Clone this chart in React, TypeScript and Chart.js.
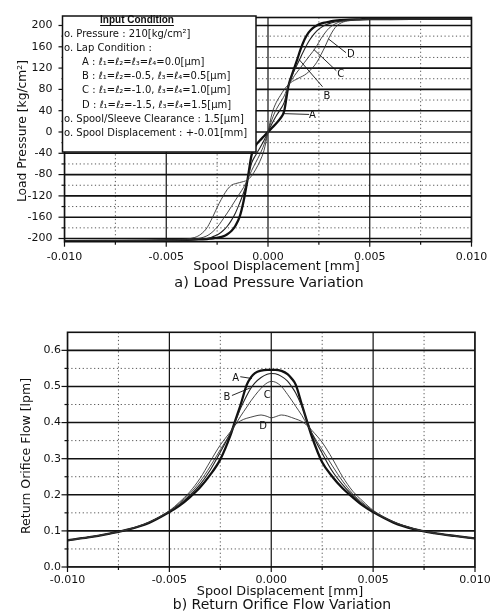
import React, { useEffect, useRef } from 'react';
import { Chart, registerables } from 'chart.js';

Chart.register(...registerables);

const FONT = '"DejaVu Sans", "Liberation Sans", sans-serif';

// ---------------- a) Load Pressure Variation ----------------
const PRESS_X = [
  -0.010, -0.008, -0.006, -0.005, -0.0045, -0.004, -0.0036, -0.0033, -0.003, -0.0028, -0.0026, -0.0024,
  -0.0022, -0.002, -0.0018, -0.0016, -0.0014, -0.0012, -0.001, -0.0008, -0.0006, -0.0004, -0.0002, 0,
  0.0002, 0.0004, 0.0006, 0.0008, 0.001, 0.0012, 0.0014, 0.0016, 0.0018, 0.002, 0.0022, 0.0024,
  0.0026, 0.0028, 0.003, 0.0033, 0.0036, 0.004, 0.0045, 0.005, 0.006, 0.008, 0.010,
];
const PRESS_A = [
  -205, -204.5, -204, -203.5, -203, -202.5, -202, -201.5, -201, -200, -199, -198,
  -196, -192, -186, -176, -160, -130, -88, -42, -25, -16, -8, 0,
  8, 16, 25, 40, 86, 110, 132, 155, 174, 187, 195, 200,
  203.5, 205.5, 207, 209, 210, 211, 211.5, 212, 212, 212.5, 212.5,
];
const PRESS_B = [
  -205, -204.5, -204, -203.5, -203, -202.5, -202, -201, -200, -198, -195, -191,
  -185, -177, -166, -152, -134, -114, -89, -58, -43, -30, -16, 0,
  16, 30, 42, 56, 87, 108, 124, 140, 156, 170, 181, 190,
  196, 200.5, 203.5, 206.5, 208.5, 210, 211, 212, 212, 212.5, 212.5,
];
const PRESS_C = [
  -205, -204.5, -204, -203.5, -203, -202.5, -201, -199, -195, -190, -183, -174,
  -163, -152, -140, -128, -116, -104, -89, -72, -57, -42, -24, 0,
  24, 42, 55, 68, 87, 100, 111, 121, 131, 141, 151, 162,
  175, 186, 195, 203, 207.5, 210, 211, 212, 212, 212.5, 212.5,
];
const PRESS_D = [
  -205, -204.5, -204, -203, -202.5, -201, -198, -192, -180, -166, -150, -134,
  -120, -108, -100, -97, -95, -93, -90, -82, -70, -55, -35, 0,
  35, 55, 68, 80, 89, 95, 99, 103, 107, 113, 121, 131,
  145, 160, 177, 196, 205, 209, 211, 212, 212, 212.5, 212.5,
];
const PRESS_Y_TICKS = [-200, -160, -120, -80, -40, 0, 40, 80, 120, 160, 200];
const PRESS_Y_MINOR = [-180, -140, -100, -60, -20, 20, 60, 100, 140, 180];
const DISP_TICKS = [-0.01, -0.005, 0, 0.005, 0.01];
const DISP_MINOR = [-0.0075, -0.0025, 0.0025, 0.0075];

const INPUT_TITLE = 'Input Condition';
const INPUT_LINES = [
  { text: 'o. Pressure : 210[kg/cm²]', indent: 0 },
  { text: 'o. Lap Condition :', indent: 0 },
  { text: 'A : ℓ₁=ℓ₂=ℓ₃=ℓ₄=0.0[μm]', indent: 1 },
  { text: 'B : ℓ₁=ℓ₂=-0.5, ℓ₃=ℓ₄=0.5[μm]', indent: 1 },
  { text: 'C : ℓ₁=ℓ₂=-1.0, ℓ₃=ℓ₄=1.0[μm]', indent: 1 },
  { text: 'D : ℓ₁=ℓ₂=-1.5, ℓ₃=ℓ₄=1.5[μm]', indent: 1 },
  { text: 'o. Spool/Sleeve Clearance : 1.5[μm]', indent: 0 },
  { text: 'o. Spool Displacement : +-0.01[mm]', indent: 0 },
];

// curve labels (data coordinates): text position and leader line
const PRESS_NOTES = [
  { text: 'D', x: 0.00407, y: 145, line: [0.00298, 174.5, 0.00383, 149] },
  { text: 'C', x: 0.00358, y: 109, line: [0.00225, 155, 0.00336, 115] },
  { text: 'B', x: 0.00289, y: 67, line: [0.00153, 136, 0.00268, 85] },
  { text: 'A', x: 0.00218, y: 32, line: [0.00077, 34.5, 0.00202, 33] },
];

// ---------------- b) Return Orifice Flow Variation ----------------
const FLOW_X = [
  -0.010, -0.009, -0.008, -0.007, -0.006, -0.005, -0.0045, -0.004, -0.0035, -0.003, -0.0025, -0.002,
  -0.0018, -0.0015, -0.0012, -0.001, -0.0008, -0.0005, -0.0002, 0,
  0.0002, 0.0005, 0.0008, 0.001, 0.0012, 0.0015, 0.0018, 0.002, 0.0025, 0.003, 0.0035, 0.004,
  0.0045, 0.005, 0.006, 0.007, 0.008, 0.009, 0.010,
];
const FLOW_A = [
  0.074, 0.082, 0.092, 0.104, 0.122, 0.152, 0.170, 0.193, 0.220, 0.255, 0.298, 0.365,
  0.400, 0.450, 0.505, 0.525, 0.537, 0.544, 0.546, 0.546,
  0.546, 0.543, 0.534, 0.522, 0.505, 0.450, 0.395, 0.360, 0.290, 0.250, 0.218, 0.193,
  0.170, 0.152, 0.123, 0.105, 0.094, 0.086, 0.079,
];
const FLOW_B = [
  0.074, 0.082, 0.092, 0.104, 0.123, 0.153, 0.173, 0.198, 0.228, 0.268, 0.318, 0.372,
  0.398, 0.440, 0.475, 0.495, 0.510, 0.525, 0.534, 0.536,
  0.535, 0.528, 0.515, 0.500, 0.482, 0.445, 0.398, 0.370, 0.315, 0.265, 0.228, 0.198,
  0.173, 0.153, 0.124, 0.105, 0.094, 0.086, 0.079,
];
const FLOW_C = [
  0.074, 0.082, 0.092, 0.104, 0.124, 0.155, 0.177, 0.203, 0.236, 0.278, 0.325, 0.370,
  0.390, 0.418, 0.443, 0.460, 0.475, 0.495, 0.510, 0.514,
  0.512, 0.500, 0.478, 0.462, 0.445, 0.420, 0.390, 0.370, 0.325, 0.280, 0.238, 0.203,
  0.177, 0.155, 0.125, 0.106, 0.094, 0.086, 0.079,
];
const FLOW_D = [
  0.074, 0.082, 0.092, 0.105, 0.125, 0.156, 0.180, 0.208, 0.245, 0.292, 0.338, 0.375,
  0.392, 0.405, 0.412, 0.415, 0.418, 0.421, 0.417, 0.413,
  0.416, 0.421, 0.418, 0.414, 0.410, 0.403, 0.390, 0.378, 0.345, 0.300, 0.250, 0.210,
  0.182, 0.157, 0.126, 0.106, 0.094, 0.086, 0.079,
];
const FLOW_Y_TICKS = [0, 0.1, 0.2, 0.3, 0.4, 0.5, 0.6];
const FLOW_Y_MINOR = [0.05, 0.15, 0.25, 0.35, 0.45, 0.55];

const FLOW_NOTES = [
  { text: 'A', x: -0.00175, y: 0.521, line: [-0.00152, 0.527, -0.00095, 0.522] },
  { text: 'B', x: -0.00217, y: 0.47, line: [-0.00193, 0.475, -0.00103, 0.496] },
  { text: 'C', x: -0.0002, y: 0.475, line: null },
  { text: 'D', x: -0.0004, y: 0.388, line: null },
];

const W = 504;

type Note = { text: string; x: number; y: number; line: number[] | null };

type Panel = {
  id: string;
  height: number;
  area: { left: number; right: number; top: number; bottom: number };
  xs: number[];
  series: { label: string; values: number[]; width: number; color: string }[];
  xMin: number; xMax: number; yMin: number; yMax: number;
  xTicks: number[]; xMinor: number[]; yTicks: number[]; yMinor: number[];
  xDigits: number; yDigits: number;
  yLabelPad: number; xLabelPad: number;
  yTitle: string; yTitlePos: [number, number]; yTitleSize: number;
  xTitle: string; xTitlePos: [number, number]; xTitleSize: number;
  caption: string; captionPos: [number, number]; captionSize: number;
  notes: Note[];
  legendBox: boolean;
};

function decor(p: Panel) {
  return {
    id: 'decor_' + p.id,
    beforeDatasetsDraw(chart: any) {
      const { ctx, chartArea: a } = chart;
      const xs = chart.scales.x;
      const ys = chart.scales.y;
      ctx.save();
      ctx.beginPath();
      ctx.rect(a.left, a.top, a.right - a.left, a.bottom - a.top);
      ctx.clip();
      const h = (py: number) => { ctx.beginPath(); ctx.moveTo(a.left, py); ctx.lineTo(a.right, py); ctx.stroke(); };
      const v = (px: number) => { ctx.beginPath(); ctx.moveTo(px, a.top); ctx.lineTo(px, a.bottom); ctx.stroke(); };
      ctx.setLineDash([1.2, 2.6]);
      ctx.strokeStyle = '#555';
      ctx.lineWidth = 1;
      p.yMinor.forEach((t) => h(ys.getPixelForValue(t)));
      p.xMinor.forEach((t) => v(xs.getPixelForValue(t)));
      ctx.setLineDash([]);
      ctx.strokeStyle = '#111';
      ctx.lineWidth = 1.6;
      p.yTicks.forEach((t) => h(ys.getPixelForValue(t)));
      ctx.lineWidth = 1.2;
      p.xTicks.forEach((t) => v(xs.getPixelForValue(t)));
      ctx.restore();
    },
    afterDatasetsDraw(chart: any) {
      const { ctx, chartArea: a } = chart;
      const xs = chart.scales.x;
      const ys = chart.scales.y;
      ctx.save();
      // frame
      ctx.strokeStyle = '#111';
      ctx.lineWidth = 1.6;
      ctx.strokeRect(a.left, a.top, a.right - a.left, a.bottom - a.top);
      // tick marks
      ctx.lineWidth = 1.2;
      const tickY = (t: number, len: number) => {
        const py = ys.getPixelForValue(t);
        ctx.beginPath(); ctx.moveTo(a.left - len, py); ctx.lineTo(a.left, py); ctx.stroke();
      };
      const tickX = (t: number, len: number) => {
        const px = xs.getPixelForValue(t);
        ctx.beginPath(); ctx.moveTo(px, a.bottom); ctx.lineTo(px, a.bottom + len); ctx.stroke();
      };
      p.yTicks.forEach((t) => tickY(t, 6));
      p.yMinor.forEach((t) => tickY(t, 3));
      p.xTicks.forEach((t) => tickX(t, 5));
      p.xMinor.forEach((t) => tickX(t, 3));

      // curve labels
      ctx.fillStyle = '#111';
      ctx.strokeStyle = '#111';
      ctx.lineWidth = 0.9;
      ctx.font = `10px ${FONT}`;
      ctx.textAlign = 'center';
      ctx.textBaseline = 'middle';
      p.notes.forEach((n) => {
        if (n.line) {
          ctx.beginPath();
          ctx.moveTo(xs.getPixelForValue(n.line[0]), ys.getPixelForValue(n.line[1]));
          ctx.lineTo(xs.getPixelForValue(n.line[2]), ys.getPixelForValue(n.line[3]));
          ctx.stroke();
        }
        ctx.fillText(n.text, xs.getPixelForValue(n.x), ys.getPixelForValue(n.y));
      });

      // input condition box
      if (p.legendBox) {
        const bx = a.left - 2;
        const by = a.top - 1.5;
        const bw = 256 - bx;
        const bh = 152 - by;
        ctx.fillStyle = '#fff';
        ctx.fillRect(bx, by, bw, bh);
        ctx.lineWidth = 1.5;
        ctx.strokeRect(bx, by, bw, bh);
        ctx.fillStyle = '#111';
        ctx.font = `bold 10px "Liberation Sans", Arial, sans-serif`;
        ctx.textAlign = 'center';
        ctx.fillText(INPUT_TITLE, 137, 20);
        const tw = ctx.measureText(INPUT_TITLE).width;
        ctx.lineWidth = 1;
        ctx.beginPath();
        ctx.moveTo(137 - tw / 2, 25.5);
        ctx.lineTo(137 + tw / 2, 25.5);
        ctx.stroke();
        ctx.font = `10px ${FONT}`;
        ctx.textAlign = 'left';
        INPUT_LINES.forEach((l, i) => {
          ctx.fillText(l.text, l.indent ? 82 : 64, 34.5 + i * 14.1);
        });
      }

      // titles
      ctx.fillStyle = '#111';
      ctx.textAlign = 'center';
      ctx.textBaseline = 'middle';
      ctx.font = `${p.xTitleSize}px ${FONT}`;
      ctx.fillText(p.xTitle, p.xTitlePos[0], p.xTitlePos[1]);
      ctx.font = `${p.captionSize}px ${FONT}`;
      ctx.fillText(p.caption, p.captionPos[0], p.captionPos[1]);
      ctx.save();
      ctx.translate(p.yTitlePos[0], p.yTitlePos[1]);
      ctx.rotate(-Math.PI / 2);
      ctx.font = `${p.yTitleSize}px ${FONT}`;
      ctx.fillText(p.yTitle, 0, 0);
      ctx.restore();
      ctx.restore();
    },
  };
}

function buildConfig(p: Panel): any {
  return {
    type: 'line',
    data: {
      datasets: p.series.map((s) => ({
        label: s.label,
        data: p.xs.map((x, i) => ({ x, y: s.values[i] })),
        borderColor: s.color,
        borderWidth: s.width,
        pointRadius: 0,
        fill: false,
        cubicInterpolationMode: 'monotone',
      })),
    },
    options: {
      responsive: false,
      animation: false,
      devicePixelRatio: 1,
      layout: { padding: { left: 0, top: p.area.top, right: W - p.area.right, bottom: 0 } },
      plugins: { legend: { display: false }, tooltip: { enabled: false }, title: { display: false } },
      scales: {
        x: {
          type: 'linear',
          min: p.xMin,
          max: p.xMax,
          afterFit: (s: any) => { s.height = p.height - p.area.bottom; },
          afterBuildTicks: (s: any) => { s.ticks = p.xTicks.map((v) => ({ value: v })); },
          grid: { display: false, drawTicks: false },
          border: { display: false },
          ticks: {
            color: '#111',
            font: { family: FONT, size: 11, lineHeight: 1 },
            padding: p.xLabelPad,
            maxRotation: 0,
            autoSkip: false,
            callback: (v: any) => Number(v).toFixed(p.xDigits),
          },
        },
        y: {
          type: 'linear',
          min: p.yMin,
          max: p.yMax,
          afterFit: (s: any) => { s.width = p.area.left; },
          afterBuildTicks: (s: any) => { s.ticks = p.yTicks.map((v) => ({ value: v })); },
          grid: { display: false, drawTicks: false },
          border: { display: false },
          ticks: {
            color: '#111',
            font: { family: FONT, size: 11, lineHeight: 1 },
            padding: p.yLabelPad,
            autoSkip: false,
            callback: (v: any) => Number(v).toFixed(p.yDigits),
          },
        },
      },
    },
    plugins: [decor(p)],
  };
}

const TOP_PANEL: Panel = {
  id: 'press',
  height: 300,
  area: { left: 64.5, right: 471.5, top: 5.7, bottom: 241.7 },
  xs: PRESS_X,
  series: [
    { label: 'D', values: PRESS_D, width: 0.9, color: '#333' },
    { label: 'C', values: PRESS_C, width: 0.9, color: '#333' },
    { label: 'B', values: PRESS_B, width: 1.1, color: '#222' },
    { label: 'A', values: PRESS_A, width: 2.3, color: '#111' },
  ],
  xMin: -0.01, xMax: 0.01, yMin: -206, yMax: 215,
  xTicks: DISP_TICKS, xMinor: DISP_MINOR, yTicks: PRESS_Y_TICKS, yMinor: PRESS_Y_MINOR,
  xDigits: 3, yDigits: 0,
  yLabelPad: 12, xLabelPad: 9.5,
  yTitle: 'Load Pressure [kg/cm²]', yTitlePos: [23, 131], yTitleSize: 12.3,
  xTitle: 'Spool Displacement [mm]', xTitlePos: [276.5, 266.7], xTitleSize: 12.8,
  caption: 'a) Load Pressure Variation', captionPos: [269, 283.5], captionSize: 14.5,
  notes: PRESS_NOTES,
  legendBox: true,
};

const BOTTOM_PANEL: Panel = {
  id: 'flow',
  height: 315,
  area: { left: 67.5, right: 475, top: 32.3, bottom: 267 },
  xs: FLOW_X,
  series: [
    { label: 'D', values: FLOW_D, width: 0.9, color: '#333' },
    { label: 'C', values: FLOW_C, width: 0.9, color: '#333' },
    { label: 'B', values: FLOW_B, width: 1.1, color: '#222' },
    { label: 'A', values: FLOW_A, width: 2.3, color: '#111' },
  ],
  xMin: -0.01, xMax: 0.01, yMin: 0, yMax: 0.65,
  xTicks: DISP_TICKS, xMinor: DISP_MINOR, yTicks: FLOW_Y_TICKS, yMinor: FLOW_Y_MINOR,
  xDigits: 3, yDigits: 1,
  yLabelPad: 6.5, xLabelPad: 7.5,
  yTitle: 'Return Orifice Flow [lpm]', yTitlePos: [27, 156], yTitleSize: 12.5,
  xTitle: 'Spool Displacement [mm]', xTitlePos: [280, 291.7], xTitleSize: 12.8,
  caption: 'b) Return Orifice Flow Variation', captionPos: [282, 305.5], captionSize: 14,
  notes: FLOW_NOTES,
  legendBox: false,
};

export default function App() {
  const topRef = useRef<HTMLCanvasElement>(null);
  const botRef = useRef<HTMLCanvasElement>(null);

  useEffect(() => {
    const c1 = new Chart(topRef.current as HTMLCanvasElement, buildConfig(TOP_PANEL));
    const c2 = new Chart(botRef.current as HTMLCanvasElement, buildConfig(BOTTOM_PANEL));
    return () => {
      c1.destroy();
      c2.destroy();
    };
  }, []);

  return (
    <div style={{ position: 'absolute', left: 0, top: 0, width: W, height: 615, background: '#fff' }}>
      <canvas
        ref={topRef}
        width={W}
        height={300}
        style={{ position: 'absolute', left: 0, top: 0, width: W, height: 300 }}
      />
      <canvas
        ref={botRef}
        width={W}
        height={315}
        style={{ position: 'absolute', left: 0, top: 300, width: W, height: 315 }}
      />
    </div>
  );
}
